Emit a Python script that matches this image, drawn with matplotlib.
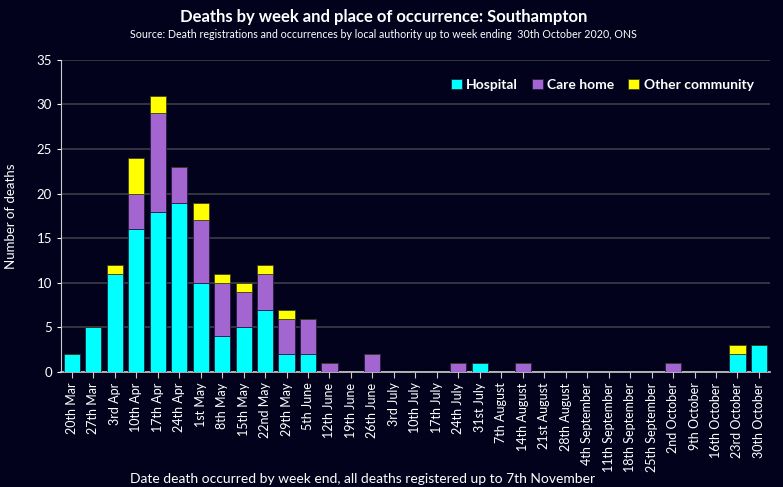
import matplotlib
matplotlib.use("Agg")

import matplotlib.pyplot as plt
import numpy as np

weeks = ["20th Mar", "27th Mar", "3rd Apr", "10th Apr", "17th Apr", "24th Apr",
         "1st May", "8th May", "15th May", "22nd May", "29th May", "5th June",
         "12th June", "19th June", "26th June", "3rd July", "10th July", "17th July",
         "24th July", "31st July", "7th August", "14th August", "21st August",
         "28th August", "4th September", "11th September", "18th September",
         "25th September", "2nd October", "9th October", "16th October",
         "23rd October", "30th October"]
hospital = [2, 5, 11, 16, 18, 19, 10, 4, 5, 7, 2, 2, 0, 0, 0, 0, 0, 0, 0, 1, 0,
            0, 0, 0, 0, 0, 0, 0, 0, 0, 0, 2, 3]
care_home = [0, 0, 0, 4, 11, 4, 7, 6, 4, 4, 4, 4, 1, 0, 2, 0, 0, 0, 1, 0, 0,
             1, 0, 0, 0, 0, 0, 0, 1, 0, 0, 0, 0]
other = [0, 0, 1, 4, 2, 0, 2, 1, 1, 1, 1, 0, 0, 0, 0, 0, 0, 0, 0, 0, 0,
         0, 0, 0, 0, 0, 0, 0, 0, 0, 0, 1, 0]

bg = "#02021c"
plt.rcParams["font.family"] = ["Lato", "DejaVu Sans"]

fig = plt.figure(figsize=(7.83, 4.87), dpi=100, facecolor=bg)
ax = fig.add_axes([0.078, 0.236, 0.905, 0.641], facecolor=bg)

x = np.arange(len(weeks))
h = np.array(hospital)
c = np.array(care_home)
o = np.array(other)
w = 0.75
ax.bar(x, h, w, color="#00ffff", edgecolor="#1a2a40", linewidth=0.6, label="Hospital", zorder=3)
ax.bar(x, c, w, bottom=h, color="#a366d1", edgecolor="#2a1a40", linewidth=0.6, label="Care home", zorder=3)
ax.bar(x, o, w, bottom=h + c, color="#ffff00", edgecolor="#40401a", linewidth=0.6, label="Other community", zorder=3)

ax.set_xlim(-0.5, len(weeks) - 0.5)
ax.set_ylim(0, 35)
ax.set_yticks(range(0, 36, 5))
ax.set_xticks(x)
ax.set_xticklabels(weeks, rotation=90, fontsize=9, color="white")
ax.tick_params(axis="y", colors="white", labelsize=9.5, length=3)
ax.tick_params(axis="x", colors="#cccccc", labelcolor="white", length=4)
ax.grid(axis="y", color="#3c3c48", linewidth=1.2, zorder=0)
for s in ["top", "right"]:
    ax.spines[s].set_visible(False)
ax.spines["left"].set_color("#cccccc")
ax.spines["bottom"].set_color("#cccccc")
ax.spines["bottom"].set_linewidth(1.2)

ax.set_ylabel("Number of deaths", color="white", fontsize=9.5)
ax.yaxis.set_label_coords(-0.062, 0.5)

leg = ax.legend(loc="upper right", ncol=3, frameon=False, fontsize=10,
                handlelength=0.8, handleheight=0.8, handletextpad=0.3,
                columnspacing=1.0, bbox_to_anchor=(0.995, 0.98))
for t in leg.get_texts():
    t.set_color("white")
    t.set_fontweight("bold")

fig.text(0.49, 0.965, "Deaths by week and place of occurrence: Southampton",
         ha="center", va="center", color="white", fontsize=12, fontweight="bold")
fig.text(0.49, 0.93, "Source: Death registrations and occurrences by local authority up to week ending  30th October 2020, ONS",
         ha="center", va="center", color="white", fontsize=7.7)
fig.text(0.463, 0.016, "Date death occurred by week end, all deaths registered up to 7th November",
         ha="center", va="center", color="white", fontsize=10)

fig.savefig("out.png", dpi=100, facecolor=bg)
